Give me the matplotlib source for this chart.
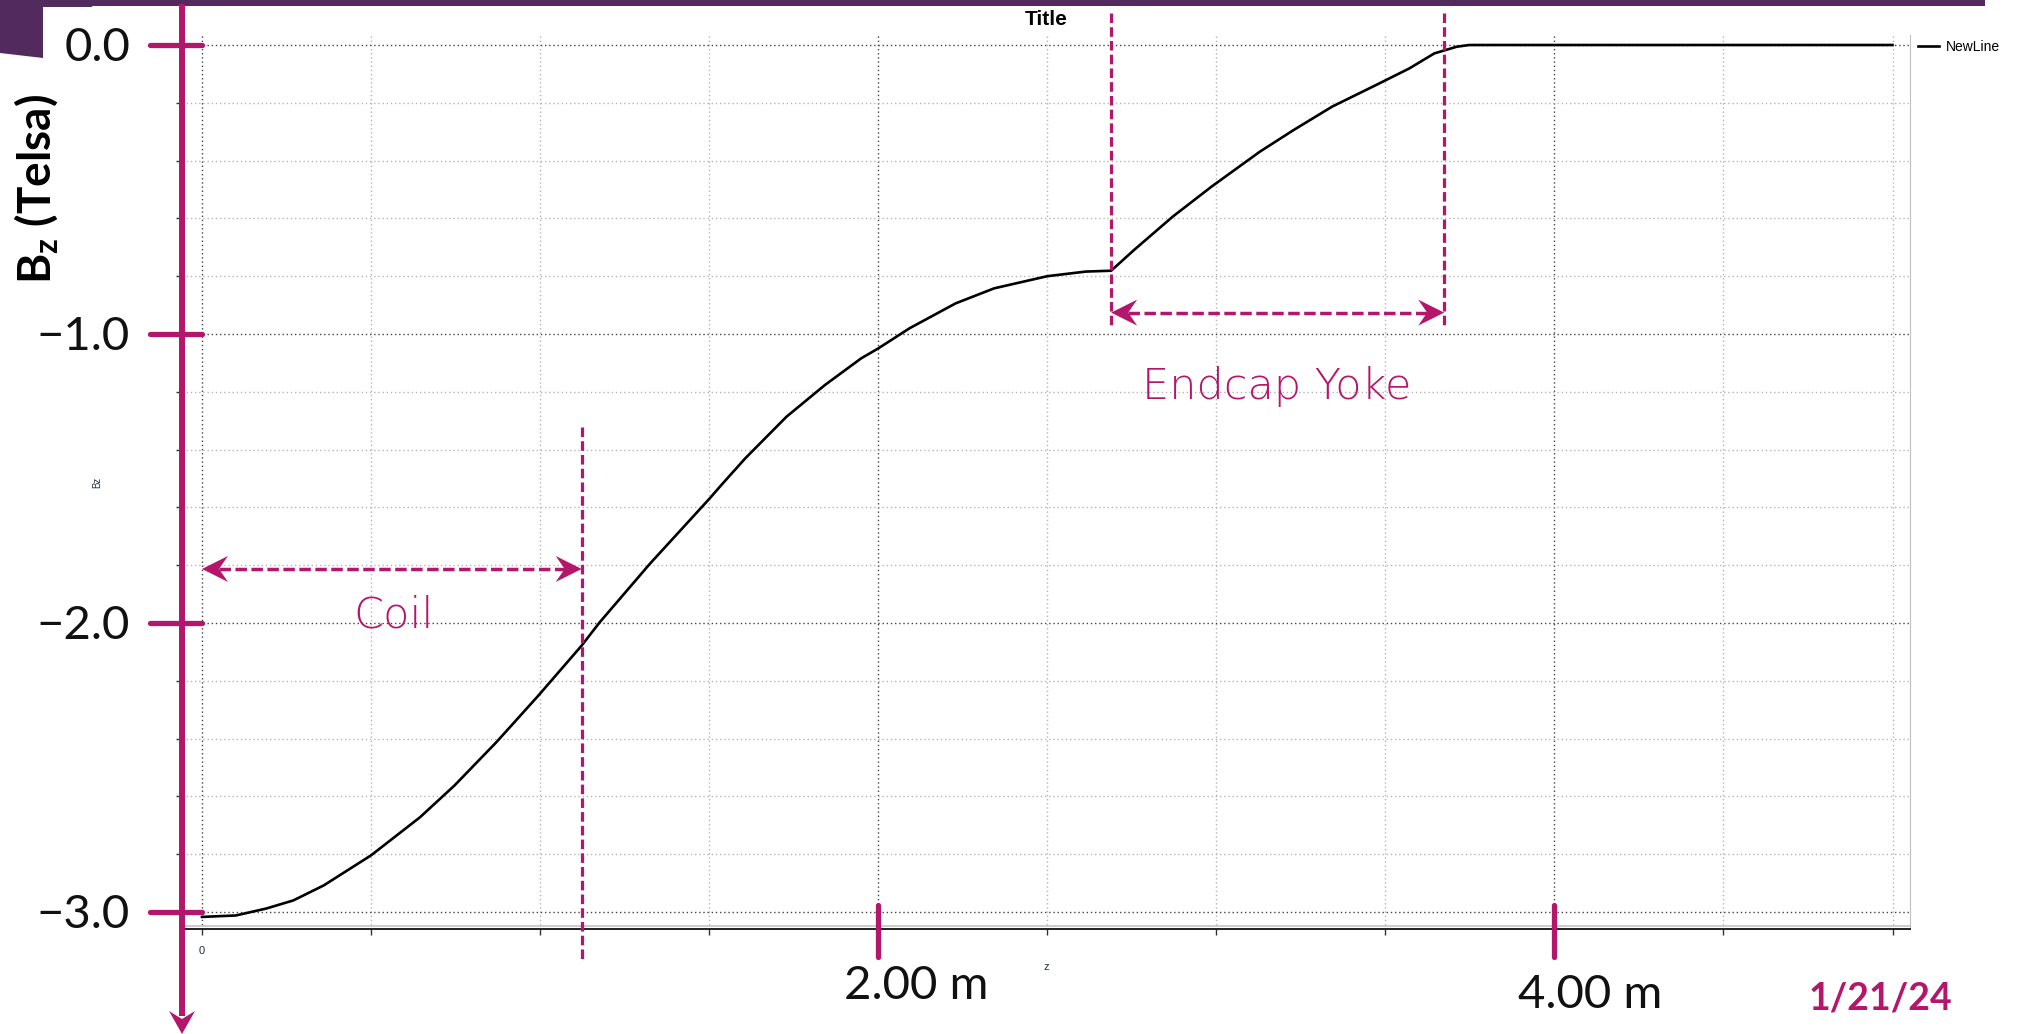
import numpy as np
import matplotlib
matplotlib.use('Agg')
import matplotlib.pyplot as plt
from matplotlib.ticker import MultipleLocator, FuncFormatter
from matplotlib.patches import Polygon, Rectangle
from matplotlib.lines import Line2D
from matplotlib.transforms import Affine2D, IdentityTransform

# Bz along z
z = [0.0, 0.10, 0.19, 0.27, 0.36, 0.50, 0.645, 0.747, 0.871, 0.995, 1.123, 1.176,
     1.324, 1.50, 1.538, 1.607, 1.729, 1.843, 1.95, 2.0, 2.093, 2.229, 2.343, 2.5,
     2.614, 2.689, 2.757, 2.871, 2.986, 3.129, 3.229, 3.343, 3.482, 3.571, 3.645,
     3.711, 3.748, 4.0, 4.5, 5.0]
bz = [-3.017, -3.012, -2.988, -2.96, -2.908, -2.804, -2.672, -2.562, -2.412, -2.251,
      -2.078, -1.998, -1.796, -1.571, -1.52, -1.43, -1.286, -1.176, -1.084, -1.05,
      -0.98, -0.894, -0.842, -0.80, -0.784, -0.781, -0.709, -0.594, -0.49, -0.369,
      -0.294, -0.213, -0.133, -0.081, -0.029, -0.006, 0.0, 0.0, 0.0, 0.0]

y_ticks = [0, -1, -2, -3]
y_labels = ['0.0', '\u22121.0', '\u22122.0', '\u22123.0']
x_ticks = [2, 4]
x_labels = ['2.00 m', '4.00 m']

coil_end = 1.123
yoke_start = 2.689
yoke_end = 3.674
coil_arrow_y = -1.813
yoke_arrow_y = -0.926

M = '#b4166c'
PURPLE = '#532a5e'
W, H = 2028, 1034

fig = plt.figure(figsize=(W / 100, H / 100), dpi=100)
L, R, T, B = 182, 1910, 35, 929
ax = fig.add_axes([L / W, 1 - B / H, (R - L) / W, (B - T) / H])
ax.set_xlim((L - 202) / 338.1, (R - 202) / 338.1)
ax.set_ylim(-(B - 45) / 289, -(T - 45) / 289)

ax.plot(z, bz, color='black', lw=1.9, label='NewLine', zorder=3)

# grid / ticks like the original plotting tool
ax.xaxis.set_major_locator(MultipleLocator(2))
ax.xaxis.set_minor_locator(MultipleLocator(0.5))
ax.yaxis.set_major_locator(MultipleLocator(1))
ax.yaxis.set_minor_locator(MultipleLocator(0.2))
ax.set_axisbelow(True)
ax.grid(which='major', color='#444444', lw=1.0, linestyle=(0, (1, 2)))
ax.grid(which='minor', color='#b5b5b5', lw=1.0, linestyle=(0, (1, 2)))
ax.tick_params(which='both', direction='out', length=4.5, width=1, color='#333333')
ax.tick_params(axis='y', which='both', labelleft=False)
ax.xaxis.set_major_formatter(FuncFormatter(lambda v, p: '0' if abs(v) < 1e-9 else ''))
ax.tick_params(axis='x', labelsize=8, labelcolor='#203048', pad=8)
for lab in ax.get_xticklabels():
    lab.set_family('Liberation Sans')
ax.spines['top'].set_visible(False)
ax.spines['right'].set_color('#c0c0c0')
ax.spines['bottom'].set_color('#222222')
ax.spines['bottom'].set_linewidth(1.4)
ax.spines['left'].set_color('#222222')
ax.axhline(ax.get_ylim()[0] + 0.009, color='#c4c4c4', lw=1.2, zorder=1)

ax.set_title('Title', fontsize=15, fontweight='bold', family='Liberation Sans', pad=7)
ax.set_ylabel('Bz', fontsize=7, family='Liberation Sans', color='#203048')
ax.yaxis.set_label_coords((102 - L) / (R - L), 0.5)
ax.set_xlabel('z', fontsize=8, family='Liberation Sans', color='#203048')
ax.xaxis.set_label_coords(0.5, (B - 962) / (B - T))

fig.legend(loc='center left', bbox_to_anchor=(1918 / W, 1 - 47 / H), frameon=False,
           prop={'family': 'Liberation Sans', 'size': 10}, handlelength=1.5,
           handletextpad=0.5, borderpad=0, borderaxespad=0)

# slide decoration (pixel coords from the top-left corner)
top = Affine2D().scale(1, -1).translate(0, H)
fig.add_artist(Rectangle((0, 0), 1985, 6, transform=top, color=PURPLE, lw=0))
fig.add_artist(Rectangle((0, 0), 92, 7, transform=top, color=PURPLE, lw=0))
fig.add_artist(Polygon([(0, 0), (43, 0), (43, 58), (0, 53)], transform=top, color=PURPLE, lw=0))

# magenta y axis with arrow
fig.add_artist(Line2D([182, 182], [4, 1016], transform=top, color=M, lw=4.3, solid_capstyle='butt'))
fig.add_artist(Polygon([(182, 1034), (169, 1011), (182, 1019), (195, 1011)], transform=top,
                       color=M, lw=0))

ytr = ax.get_yaxis_transform()
for v, lab in zip(y_ticks, y_labels):
    ax.plot([(150 - L) / (R - L), (202 - L) / (R - L)], [v, v], transform=ytr, color=M,
            lw=3.8, solid_capstyle='round', clip_on=False, zorder=6)
    ax.text((130 - L) / (R - L), v - 0.012, lab, transform=ytr, ha='right', va='center',
            fontsize=34, family='Lato', fontweight='normal', color='#111111')

xtr = ax.get_xaxis_transform()
x_off = [0.112, 0.106]
x_base = [-3.301, -3.332]
for v, lab, off, yb in zip(x_ticks, x_labels, x_off, x_base):
    ax.plot([v, v], [0.027, -0.031], transform=xtr, color=M, lw=3.8,
            solid_capstyle='round', clip_on=False, zorder=6)
    ax.text(v + off, yb, lab, ha='center', va='baseline', fontsize=34, family='Lato',
            fontweight='normal', color='#111111', clip_on=False)

# region markers
vdash = (0, (3.0, 1.3))
ax.plot([coil_end, coil_end], [-1.322, -3.166], color=M, lw=2.3, linestyle=vdash,
        clip_on=False, zorder=5)
for xv in (yoke_start, yoke_end):
    ax.plot([xv, xv], [0.111, -0.979], color=M, lw=2.3, linestyle=vdash,
            clip_on=False, zorder=5)


def dbl_arrow(x1, x2, y):
    p1 = ax.transData.transform((x1, y))
    p2 = ax.transData.transform((x2, y))
    hl, hw, nd = 26, 13, 17
    for tip, d in ((p1, 1), (p2, -1)):
        pts = [(tip[0], tip[1]), (tip[0] + d * hl, tip[1] + hw),
               (tip[0] + d * nd, tip[1]), (tip[0] + d * hl, tip[1] - hw)]
        fig.add_artist(Polygon(pts, transform=IdentityTransform(), color=M, lw=0, zorder=6))
    fig.add_artist(Line2D([p1[0] + nd, p2[0] - nd], [p1[1], p2[1]], transform=IdentityTransform(),
                          color=M, lw=2.5, linestyle=(0, (3.3, 1.3)), zorder=6))


dbl_arrow(0.0, coil_end, coil_arrow_y)
dbl_arrow(yoke_start, yoke_end, yoke_arrow_y)

ax.text(0.566, -2.015, 'Coil', ha='center', va='baseline', fontsize=31, family='DejaVu Sans',
        fontweight='light', color=M)
ax.text(3.18, -1.226, 'Endcap Yoke', ha='center', va='baseline', fontsize=31,
        family='DejaVu Sans', fontweight='light', color=M)

plt.rcParams['mathtext.default'] = 'regular'
fig.text(36 / W, 1 - 189 / H, r'B$_\mathregular{z}$ (Telsa)', rotation=90, ha='center',
         va='center', fontsize=33, family='Lato', fontweight='bold', color='black')
fig.text(1880 / W, 1 - 1009 / H, '1/21/24', ha='center', va='baseline', fontsize=27,
         family='Lato', fontweight='bold', color=M)

fig.savefig('out.png', dpi=100)
